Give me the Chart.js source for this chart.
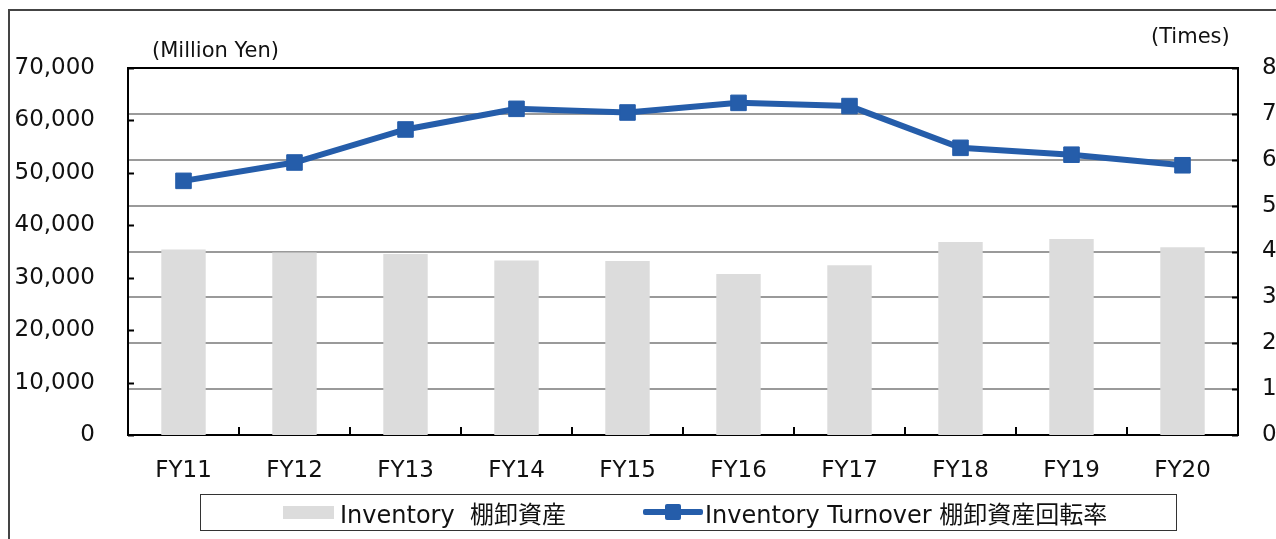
<!DOCTYPE html>
<html>
<head>
<meta charset="utf-8">
<script src="https://cdn.jsdelivr.net/npm/chart.js@4"></script>
<style>
  body { margin: 0; background: #fff; font-family: "DejaVu Sans", "Noto Sans CJK JP", sans-serif; }
  #wrap { position: relative; width: 1276px; height: 539px; overflow: hidden; }
  #frame { position: absolute; left: 8px; top: 9px; width: 1400px; height: 700px; border-left: 2px solid #444; border-top: 2px solid #444; }
  canvas { position: absolute; left: 0; top: 0; }
  .unit { position: absolute; font-size: 21px; color: #111; white-space: nowrap; }
  #legend { position: absolute; left: 200px; top: 494px; width: 977px; height: 37px; border: 1.5px solid #333; box-sizing: border-box; font-size: 24px; color: #111; }
  .item { position: absolute; top: 0px; white-space: nowrap; }
  .swatch-bar { position: absolute; left: 82px; top: 11px; width: 51px; height: 13px; background: #dcdcdc; }
  .swatch-line { position: absolute; left: 442px; top: 14px; width: 60px; height: 6px; background: #255daa; border-radius: 2px; }
  .swatch-mark { position: absolute; left: 464px; top: 9px; width: 16px; height: 16px; background: #255daa; border-radius: 2px; }
</style>
</head>
<body>
<div id="wrap">
  <div id="frame"></div>
  <canvas id="chart" width="1276" height="539"></canvas>
  <div class="unit" style="left:152px; top:38px;">(Million Yen)</div>
  <div class="unit" style="left:1151px; top:24px;">(Times)</div>
  <div id="legend">
    <div class="swatch-bar"></div>
    <div class="item" style="left:139px;">Inventory&nbsp; 棚卸資産</div>
    <div class="swatch-line"></div>
    <div class="swatch-mark"></div>
    <div class="item" style="left:504px;">Inventory Turnover 棚卸資産回転率</div>
  </div>
</div>
<script>
// data
const years = ["FY11", "FY12", "FY13", "FY14", "FY15", "FY16", "FY17", "FY18", "FY19", "FY20"];
const inventory = [35400, 34800, 34500, 33300, 33200, 30700, 32400, 36800, 37400, 35800];
const turnover = [5.54, 5.94, 6.66, 7.11, 7.03, 7.24, 7.17, 6.26, 6.11, 5.88];
const leftTicks = [0, 10000, 20000, 30000, 40000, 50000, 60000, 70000];
const rightTicks = [0, 1, 2, 3, 4, 5, 6, 7, 8];

const tickFont = { family: "DejaVu Sans", size: 23 };

// plot frame + little inner tick marks
const frameMarks = {
  id: "frameMarks",
  afterDraw(chart) {
    const ctx = chart.ctx;
    const a = chart.chartArea;
    const x = chart.scales.x, y = chart.scales.y, y1 = chart.scales.y1;
    ctx.save();
    ctx.strokeStyle = "#000";
    ctx.lineWidth = 2;
    ctx.beginPath();
    ctx.moveTo(a.left - 1, a.top);
    ctx.lineTo(a.right + 1, a.top);
    leftTicks.forEach(v => {
      const py = Math.round(y.getPixelForValue(v)) + 0.5;
      ctx.moveTo(a.left, py);
      ctx.lineTo(a.left + 6, py);
    });
    rightTicks.forEach(v => {
      const py = Math.round(y1.getPixelForValue(v)) + 0.5;
      ctx.moveTo(a.right - 6, py);
      ctx.lineTo(a.right, py);
    });
    for (let i = 0; i < years.length - 1; i++) {
      const px = Math.round((x.getPixelForTick(i) + x.getPixelForTick(i + 1)) / 2);
      ctx.moveTo(px, a.bottom);
      ctx.lineTo(px, a.bottom - 8);
    }
    ctx.stroke();
    ctx.restore();
  }
};

new Chart(document.getElementById("chart"), {
  data: {
    labels: years,
    datasets: [
      {
        type: "line",
        label: "Inventory Turnover 棚卸資産回転率",
        data: turnover,
        yAxisID: "y1",
        borderColor: "#255daa",
        backgroundColor: "#255daa",
        borderWidth: 6,
        pointStyle: "rect",
        pointRadius: 11,
        pointBorderWidth: 1,
        tension: 0,
        order: 0
      },
      {
        type: "bar",
        label: "Inventory 棚卸資産",
        data: inventory,
        yAxisID: "y",
        backgroundColor: "#dcdcdc",
        barPercentage: 0.4,
        categoryPercentage: 1,
        order: 1
      }
    ]
  },
  options: {
    responsive: false,
    animation: false,
    layout: { padding: { top: 68, left: 0, right: 0, bottom: 0 } },
    plugins: { legend: { display: false }, tooltip: { enabled: false } },
    scales: {
      x: {
        grid: { display: false, drawTicks: false },
        border: { display: true, color: "#000", width: 2 },
        ticks: { font: tickFont, color: "#111", padding: 22 },
        afterFit(s) { s.height = 104; }
      },
      y: {
        position: "left",
        min: 0,
        max: 70000,
        grid: { display: false, drawTicks: false },
        border: { display: true, color: "#000", width: 2 },
        ticks: {
          stepSize: 10000,
          font: tickFont,
          color: "#111",
          padding: 33,
          callback: v => v.toLocaleString("en-US")
        },
        afterFit(s) { s.width = 128; }
      },
      y1: {
        position: "right",
        min: 0,
        max: 8,
        grid: { color: "#9a9a9a", lineWidth: 2, drawTicks: false },
        border: { display: true, color: "#000", width: 2 },
        ticks: { stepSize: 1, font: tickFont, color: "#111", padding: 24 },
        afterFit(s) { s.width = 38; }
      }
    }
  },
  plugins: [frameMarks]
});
</script>
</body>
</html>
